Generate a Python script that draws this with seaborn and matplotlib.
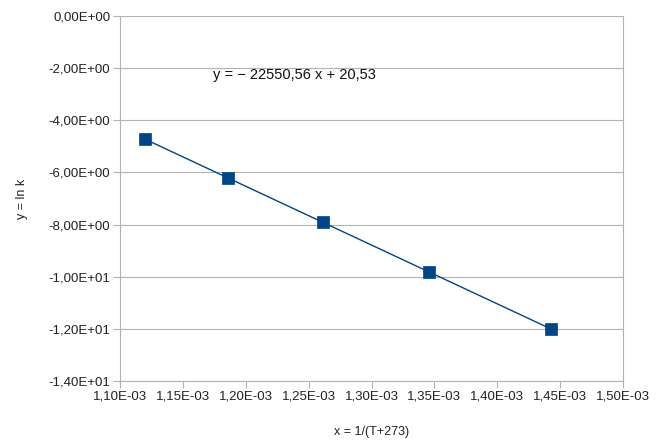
import matplotlib
matplotlib.use("Agg")
import matplotlib.pyplot as plt
import seaborn as sns
import numpy as np
import pandas as pd
from matplotlib.ticker import FuncFormatter, MultipleLocator

T = [620, 570, 520, 470, 420]
x_vals = [1.0 / (t + 273) for t in T]
y_vals = [-4.72, -6.22, -7.92, -9.83, -12.00]
slope = -22550.56
intercept = 20.53

df = pd.DataFrame({"x": x_vals, "y": y_vals})

sns.set_theme(style="white")
plt.rcParams['font.family'] = ['Liberation Sans', 'DejaVu Sans']

fig = plt.figure(figsize=(6.64, 4.42), dpi=100)
ax = fig.add_axes([120/664, 1 - 381/442, (623-120)/664, (381-16)/442])

color = "#004586"
xl = np.array([min(x_vals), max(x_vals)])
ax.plot(xl, slope * xl + intercept, color=color, lw=1.0, zorder=2)
sns.scatterplot(data=df, x="x", y="y", marker="s", s=75, color=color,
                edgecolor=color, linewidth=0.5, ax=ax, zorder=3)

ax.set_xlim(1.10e-3, 1.50e-3)
ax.set_ylim(-14, 0)
ax.xaxis.set_major_locator(MultipleLocator(0.05e-3))
ax.yaxis.set_major_locator(MultipleLocator(2))

def sci_comma(v, pos):
    s = "%.2E" % v
    return s.replace(".", ",")

ax.xaxis.set_major_formatter(FuncFormatter(sci_comma))
ax.yaxis.set_major_formatter(FuncFormatter(sci_comma))

ax.grid(axis="y", color="#b3b3b3", lw=0.8)
ax.grid(axis="x", visible=False)
for side in ["left", "right", "top", "bottom"]:
    ax.spines[side].set_visible(True)
    ax.spines[side].set_color("#b3b3b3")
    ax.spines[side].set_linewidth(0.8)
ax.spines["top"].set_visible(False)

ax.tick_params(axis="both", which="major", length=5, width=0.8, color="#b3b3b3",
               direction="out", labelsize=9.5, labelcolor="#222222", pad=2)
ax.tick_params(axis="x", bottom=True)
ax.tick_params(axis="y", left=True)

ax.set_xlabel("x = 1/(T+273)", fontsize=9, color="#222222", labelpad=17)
ax.set_ylabel("y = ln k", fontsize=9, color="#222222", labelpad=15)

ax.text(1.174e-3, -2.4, "y = \u2212 22550,56 x + 20,53", fontsize=10.5, color="#111111")

fig.savefig("out.png", dpi=100)
